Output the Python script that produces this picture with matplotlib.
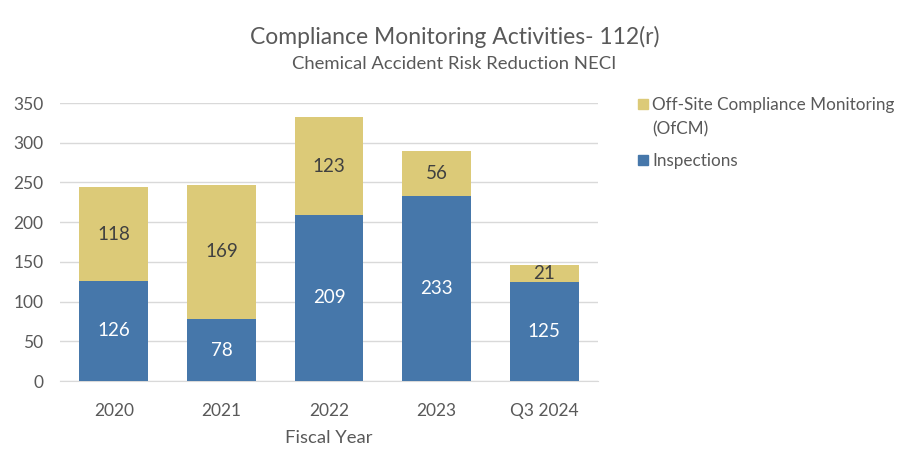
import matplotlib
matplotlib.use("Agg")
import matplotlib.pyplot as plt
from matplotlib.patches import Rectangle
import numpy as np

plt.rcParams['font.family'] = ['Lato', 'DejaVu Sans']

categories = ["2020", "2021", "2022", "2023", "Q3 2024"]
inspections = [126, 78, 209, 233, 125]
ofcm = [118, 169, 123, 56, 21]
yticks = [0, 50, 100, 150, 200, 250, 300, 350]

blue = "#4677AA"
gold = "#DCCA78"
txt = "#404040"

fig = plt.figure(figsize=(9.09, 4.74), dpi=100)
ax = fig.add_axes([60/909, 1-381/474, (598-60)/909, (381-103)/474])

x = np.arange(len(categories))
w = 0.64
ax.bar(x, inspections, w, color=blue, zorder=3)
ax.bar(x, ofcm, w, bottom=inspections, color=gold, zorder=3)

for xi, v in zip(x, inspections):
    ax.text(xi, v/2, str(v), ha='center', va='center', color='white', fontsize=13.5, zorder=4)
for xi, v, b in zip(x, ofcm, inspections):
    ax.text(xi, b + v/2, str(v), ha='center', va='center', color=txt, fontsize=13.5, zorder=4)

ax.set_xlim(-0.5, len(categories)-0.5)
ax.set_ylim(0, 350)
ax.set_yticks(yticks)
ax.set_xticks(x)
ax.set_xticklabels(categories)
ax.grid(axis='y', color='#D9D9D9', linewidth=1, zorder=0)
for s in ['top', 'right', 'left']:
    ax.spines[s].set_visible(False)
ax.spines['bottom'].set_color('#D9D9D9')
ax.tick_params(axis='both', length=0, labelsize=12.5, colors='#595959')
ax.tick_params(axis='y', pad=12)
ax.tick_params(axis='x', pad=16)
ax.set_xlabel("Fiscal Year", fontsize=13.3, color='#595959', labelpad=8)

fig.text(0.5, 1-37/474, "Compliance Monitoring Activities- 112(r)", ha='center', va='center',
         fontsize=16.5, color='#595959')
fig.text(0.5, 1-64/474, "Chemical Accident Risk Reduction NECI", ha='center', va='center',
         fontsize=13.3, color='#595959')

# legend
sq = 10
for (yc, col, label) in [(104, gold, "Off-Site Compliance Monitoring\n(OfCM)"), (160, blue, "Inspections")]:
    fig.patches.append(Rectangle((638/909, 1-(yc+sq/2)/474), sq/909, sq/474,
                                 transform=fig.transFigure, color=col, figure=fig))
    fig.text(652/909, 1-(yc-7)/474, label, ha='left', va='top', fontsize=12.3,
             color='#595959', linespacing=1.6)

fig.savefig("out.png", dpi=100)
